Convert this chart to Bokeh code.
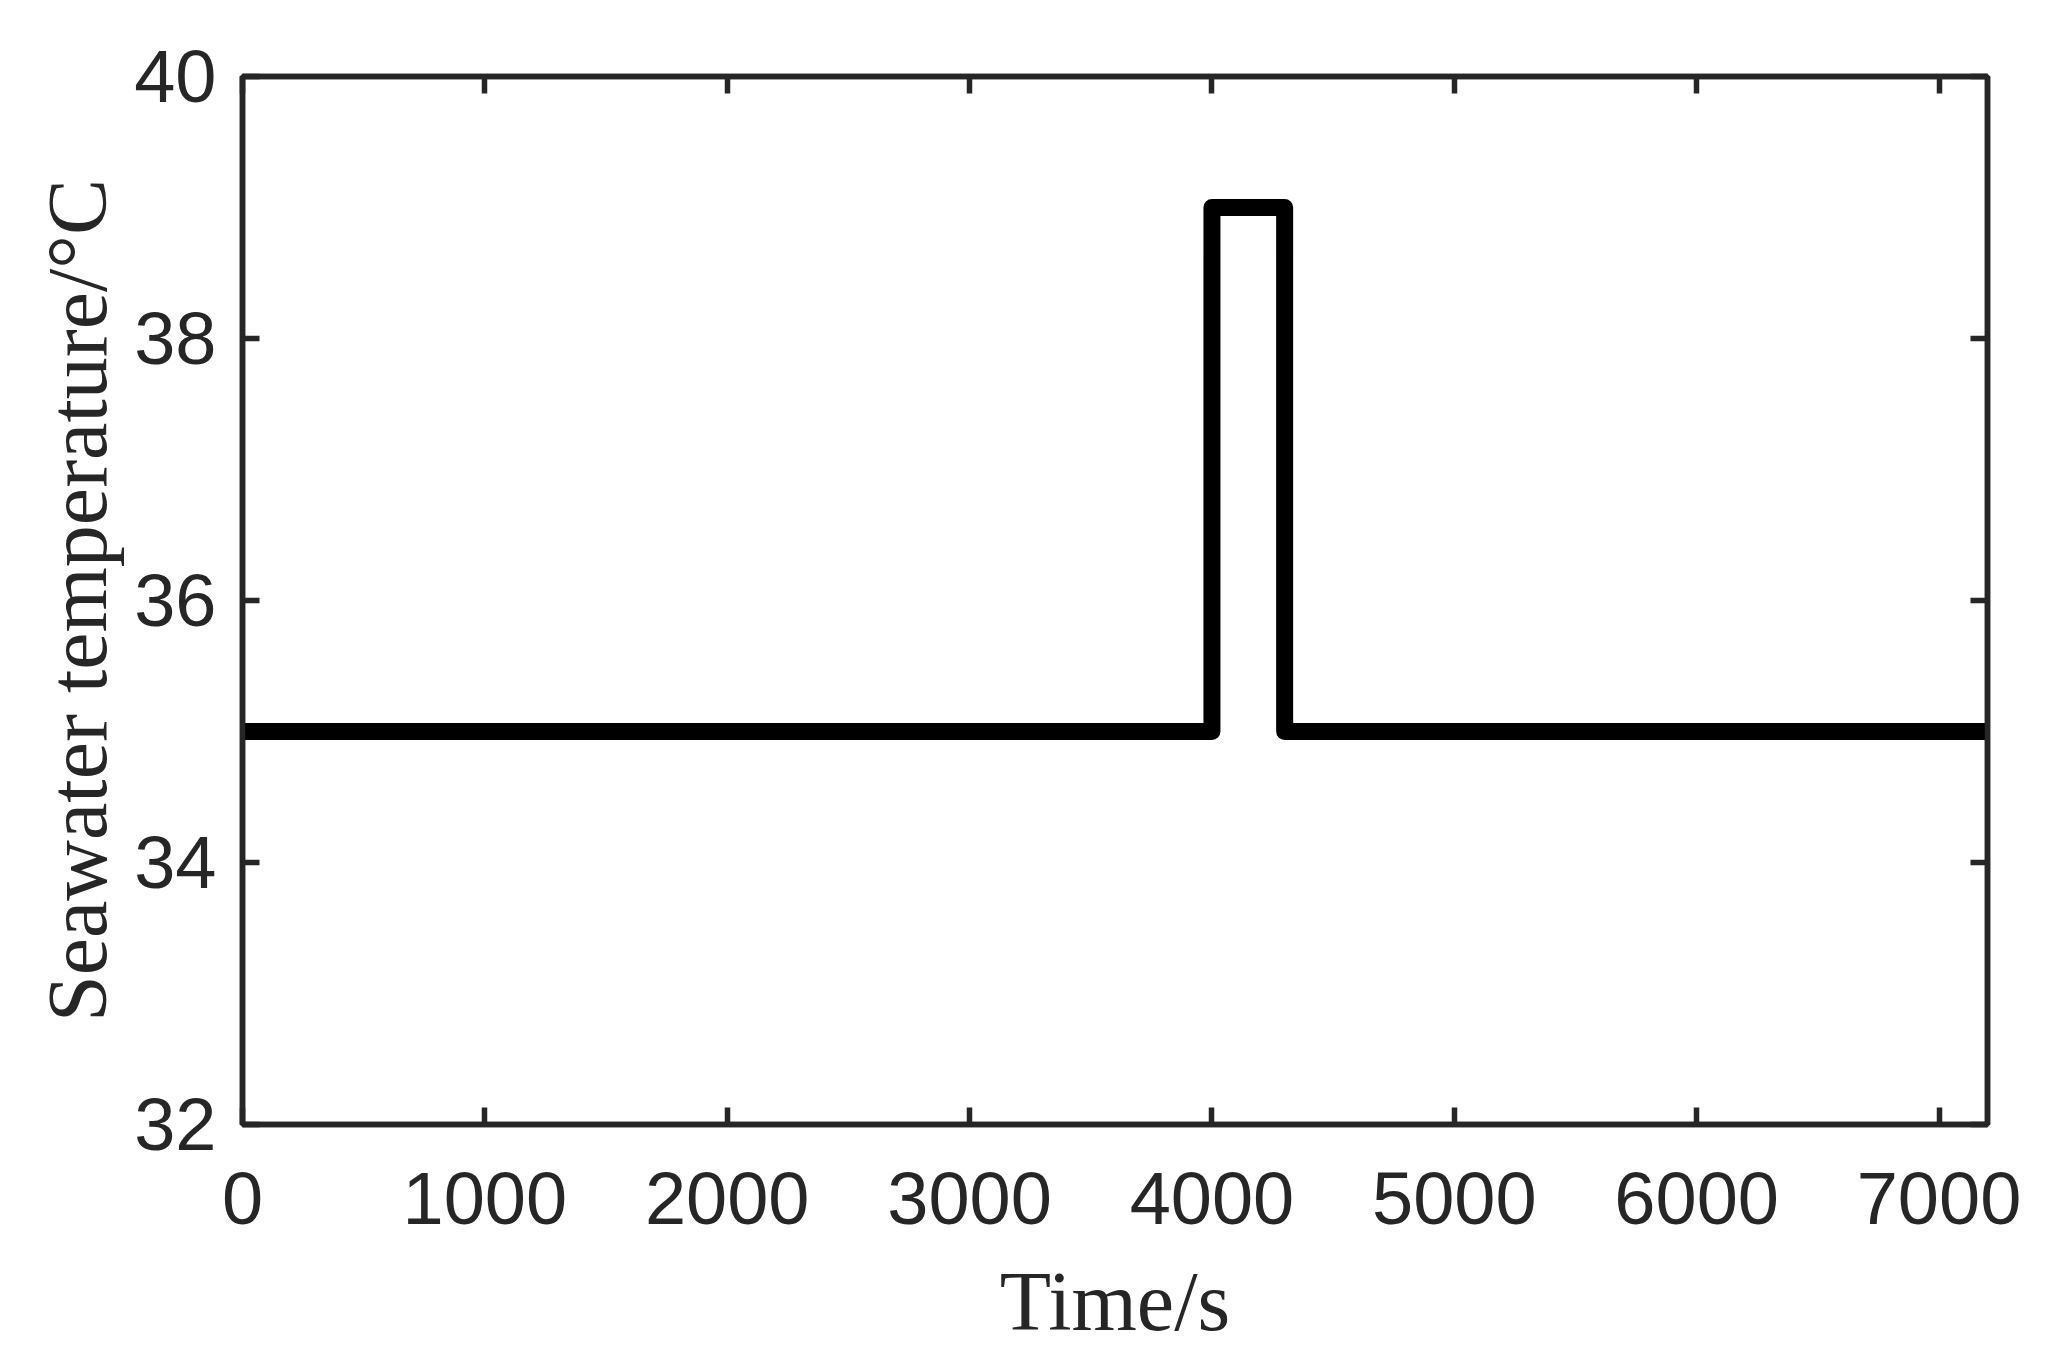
from bokeh.plotting import figure
from bokeh.models import LinearAxis, FixedTicker, Range1d
from bokeh.embed import file_html
from bokeh.resources import INLINE

# Data: seawater temperature step profile
time_s = [0, 4000, 4000, 4300, 4300, 7200]
temperature_c = [35, 35, 39, 39, 35, 35]

x_ticks = [0, 1000, 2000, 3000, 4000, 5000, 6000, 7000]
y_ticks = [32, 34, 36, 38, 40]

AX = "#262626"

p = figure(width=2030, height=1350, output_backend="svg", toolbar_location=None,
           x_range=Range1d(0, 7200), y_range=Range1d(32, 40),
           x_axis_label="Time/s", y_axis_label="Seawater temperature/°C",
           min_border_left=242, min_border_right=43, min_border_top=76, min_border_bottom=222)

p.line(time_s, temperature_c, line_color="black", line_width=17, line_join="round")

p.grid.visible = False
p.outline_line_color = AX
p.outline_line_width = 5.5

def style(ax, ticks, labels=True):
    ax.ticker = FixedTicker(ticks=ticks)
    ax.major_tick_in = 17
    ax.major_tick_out = 0
    ax.minor_tick_line_color = None
    ax.major_tick_line_color = AX
    ax.major_tick_line_width = 5.5
    ax.axis_line_color = AX
    ax.axis_line_width = 5.5
    if labels:
        ax.major_label_text_font = "Liberation Sans"
        ax.major_label_text_font_size = "74px"
        ax.major_label_text_color = AX
        ax.axis_label_text_font = "Liberation Serif"
        ax.axis_label_text_font_size = "84px"
        ax.axis_label_text_font_style = "normal"
        ax.axis_label_text_color = AX
    else:
        ax.major_label_text_font_size = "0px"
        ax.major_label_text_color = None

style(p.xaxis[0], x_ticks)
style(p.yaxis[0], y_ticks)
p.xaxis[0].major_label_standoff = 48
p.xaxis[0].axis_label_standoff = 28
p.yaxis[0].major_label_standoff = 26
p.yaxis[0].axis_label_standoff = 7

top = LinearAxis()
style(top, x_ticks, labels=False)
p.add_layout(top, "above")
right = LinearAxis()
style(right, y_ticks, labels=False)
p.add_layout(right, "right")

open("out.html", "w").write(file_html(p, INLINE))
